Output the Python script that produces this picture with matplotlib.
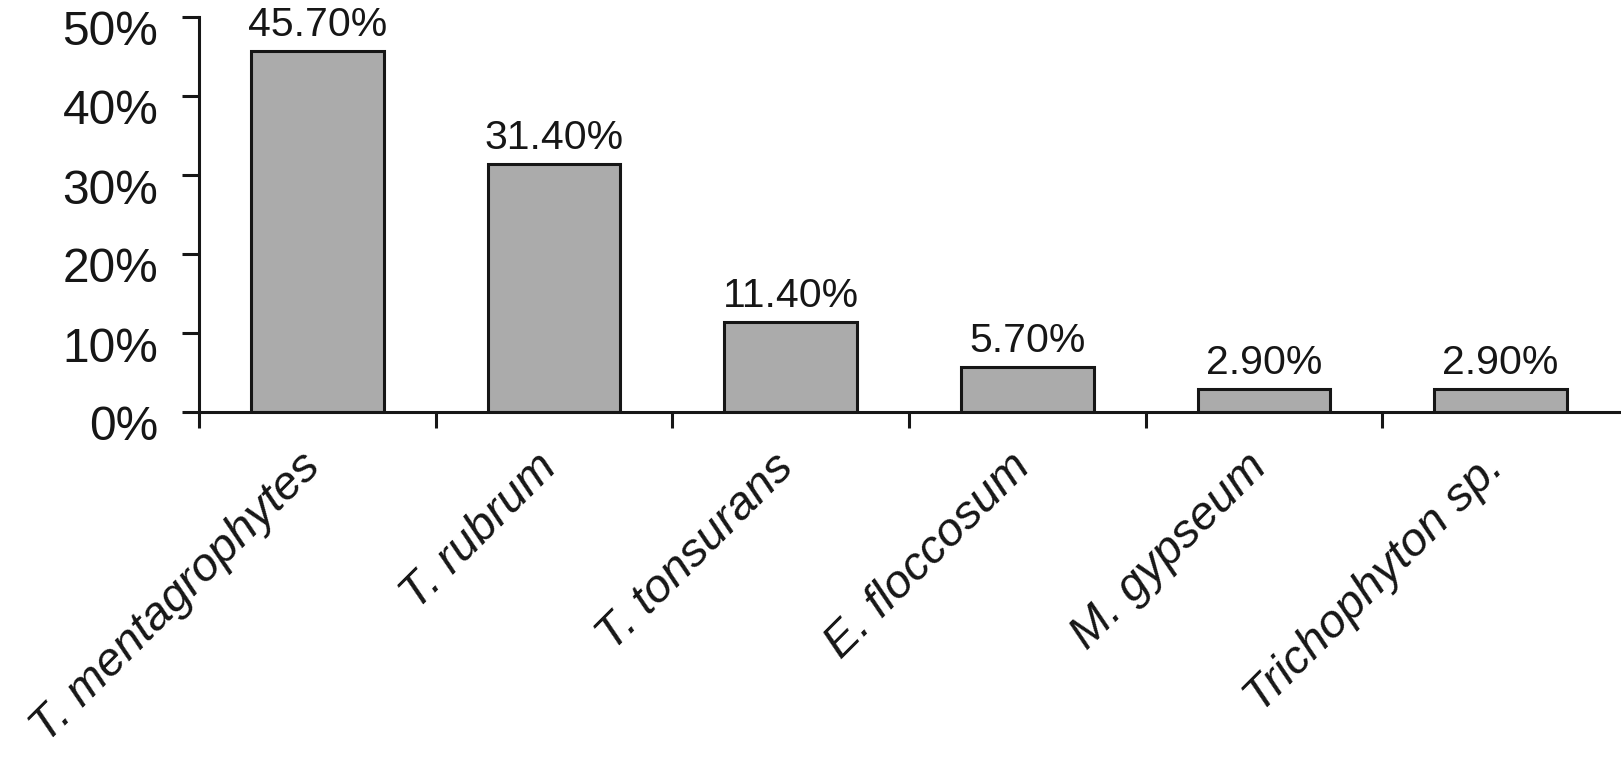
import matplotlib
matplotlib.use("Agg")
import matplotlib.pyplot as plt
import matplotlib.transforms as mtransforms

# data
species = ["T. mentagrophytes", "T. rubrum", "T. tonsurans",
           "E. floccosum", "M. gypseum", "Trichophyton sp."]
share = [45.7, 31.4, 11.4, 5.7, 2.9, 2.9]
y_ticks = [0, 10, 20, 30, 40, 50]

plt.rcParams["font.family"] = ["Liberation Sans", "DejaVu Sans"]
ink = "#161616"

fig = plt.figure(figsize=(16.21, 7.62), dpi=100)
ax = fig.add_axes([199 / 1621, 1 - 412 / 762, 1420 / 1621, 395 / 762])

# the bars
x = list(range(len(species)))
bars = ax.bar(x, share, width=0.56, color="#ababab",
              edgecolor=ink, linewidth=2.2, zorder=2)
ax.bar_label(bars, labels=["{:.2f}%".format(v) for v in share],
             padding=5, fontsize=29.5, color=ink)

# axes and spines
ax.set_xlim(-0.5, len(species) - 0.5)
ax.set_ylim(0, 50)
for side in ["top", "right"]:
    ax.spines[side].set_visible(False)
for side in ["left", "bottom"]:
    ax.spines[side].set_linewidth(2.2)
    ax.spines[side].set_color(ink)
    ax.spines[side].set_zorder(3)

# y axis ticks and labels
ax.set_yticks(y_ticks)
ax.set_yticklabels(["{}%".format(t) for t in y_ticks])
ax.tick_params(axis="y", direction="out", length=12.2, width=2.2,
               color=ink, labelsize=34.5, labelcolor=ink, pad=17)
shift = mtransforms.ScaledTranslation(0, -0.11, fig.dpi_scale_trans)
for lab in ax.get_yticklabels():
    lab.set_transform(lab.get_transform() + shift)

# x axis: ticks at category boundaries, labels at centres
ax.set_xticks(x)
ax.set_xticklabels(species, rotation=45, ha="right", va="center",
                   rotation_mode="anchor", fontstyle="italic")
ax.set_xticks([i - 0.5 for i in x], minor=True)
ax.tick_params(axis="x", which="major", length=0, labelsize=34,
               labelcolor=ink, pad=35)
ax.tick_params(axis="x", which="minor", direction="out", length=11.5,
               width=2.2, color=ink)
xshift = mtransforms.ScaledTranslation(-0.04, 0, fig.dpi_scale_trans)
for lab in ax.get_xticklabels():
    lab.set_transform(lab.get_transform() + xshift)

fig.savefig("out.png", dpi=100, facecolor="white")
